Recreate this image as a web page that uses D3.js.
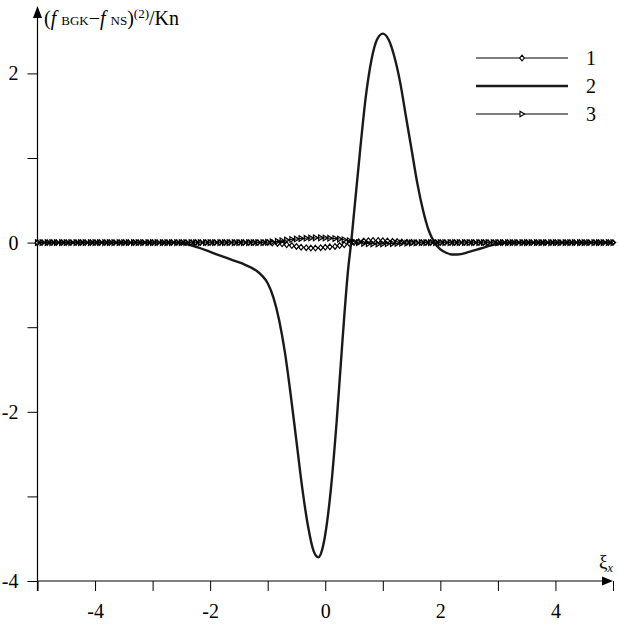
<!DOCTYPE html>
<html>
<head>
<meta charset="utf-8">
<script src="https://cdn.jsdelivr.net/npm/d3@7"></script>
<style>
  html, body { margin: 0; padding: 0; background: #fff; }
  svg { display: block; }
  svg text { font-family: "Liberation Serif", "Times New Roman", "DejaVu Serif", serif !important; fill: #000; white-space: pre; }
</style>
</head>
<body>
<svg id="chart" width="618" height="625"></svg>
<script>
// ---- data ----
const xTicks = [-5, -4, -3, -2, -1, 0, 1, 2, 3, 4, 5];
const xTickLabels = ["", "-4", "", "-2", "", "0", "", "2", "", "4", ""];
const yTicks = [-4, -3, -2, -1, 0, 1, 2];
const yTickLabels = ["-4", "", "-2", "", "0", "", "2"];
const legendLabels = ["1", "2", "3"];

// grid of the marked series (1 and 3)
const gridX = [
  -5.00,-4.92,-4.83,-4.75,-4.67,-4.58,-4.50,-4.42,-4.33,-4.25,-4.17,-4.08,
  -4.00,-3.92,-3.83,-3.75,-3.67,-3.58,-3.50,-3.42,-3.33,-3.25,-3.17,-3.08,
  -3.00,-2.92,-2.83,-2.75,-2.67,-2.58,-2.50,-2.42,-2.33,-2.25,-2.17,-2.08,
  -2.00,-1.92,-1.83,-1.75,-1.67,-1.58,-1.50,-1.42,-1.33,-1.25,-1.17,-1.08,
  -1.00,-0.92,-0.83,-0.75,-0.67,-0.58,-0.50,-0.42,-0.33,-0.25,-0.17,-0.08,
   0.00, 0.08, 0.17, 0.25, 0.33, 0.42, 0.50, 0.58, 0.67, 0.75, 0.83, 0.92,
   1.00, 1.08, 1.17, 1.25, 1.33, 1.42, 1.50, 1.58, 1.67, 1.75, 1.83, 1.92,
   2.00, 2.08, 2.17, 2.25, 2.33, 2.42, 2.50, 2.58, 2.67, 2.75, 2.83, 2.92,
   3.00, 3.08, 3.17, 3.25, 3.33, 3.42, 3.50, 3.58, 3.67, 3.75, 3.83, 3.92,
   4.00, 4.08, 4.17, 4.25, 4.33, 4.42, 4.50, 4.58, 4.67, 4.75, 4.83, 4.92,
   5.00
];

// series 1 (diamonds)
const series1 = [
  0,0,0,0,0,0,0,0,0,0,0,0,
  0,0,0,0,0,0,0,0,0,0,0,0,
  0,0,0,0,0,0,0,0,0,0,0,0,
  0,0,0,0,0,0,0,0,0,0,0,0,
  0,-0.005,-0.01,-0.015,-0.025,-0.035,-0.045,-0.055,-0.06,-0.065,-0.065,-0.06,
  -0.055,-0.05,-0.045,-0.035,-0.025,-0.012,0,0.01,0.018,0.022,0.025,0.025,
  0.022,0.02,0.015,0.012,0.008,0.005,0.003,0,0,0,0,0,
  0,0,0,0,0,0,0,0,0,0,0,0,
  0,0,0,0,0,0,0,0,0,0,0,0,
  0,0,0,0,0,0,0,0,0,0,0,0,
  0
];

// series 3 (triangles)
const series3 = [
  0,0,0,0,0,0,0,0,0,0,0,0,
  0,0,0,0,0,0,0,0,0,0,0,0,
  0,0,0,0,0,0,0,0,0,0,0,0,
  0,0,0,0,0,0,0,0,0,0,0,0,
  0.003,0.008,0.015,0.022,0.03,0.037,0.043,0.048,0.052,0.055,0.056,0.056,
  0.055,0.052,0.048,0.042,0.033,0.022,0.01,0,-0.008,-0.012,-0.015,-0.016,
  -0.015,-0.013,-0.011,-0.009,-0.007,-0.005,-0.003,-0.002,0,0,0,0,
  0,0,0,0,0,0,0,0,0,0,0,0,
  0,0,0,0,0,0,0,0,0,0,0,0,
  0,0,0,0,0,0,0,0,0,0,0,0,
  0
];

// series 2 (thick line)
const series2X = [-5, -3.3, -2.6, -2.4, -2.2, -2.0, -1.8, -1.6, -1.4, -1.2, -1.1, -1.0, -0.9, -0.8, -0.7,
  -0.6, -0.5, -0.4, -0.3, -0.2, -0.12, -0.05, 0.0, 0.1, 0.2, 0.3, 0.4, 0.45, 0.5, 0.6, 0.7, 0.8, 0.9,
  1.0, 1.1, 1.2, 1.3, 1.4, 1.5, 1.6, 1.7, 1.8, 1.9, 2.0, 2.1, 2.2, 2.3, 2.5, 2.7, 2.9, 3.1, 3.3, 5];
const series2Y = [0, 0, 0, -0.02, -0.06, -0.11, -0.16, -0.21, -0.26, -0.33, -0.39, -0.48, -0.65, -0.92, -1.3,
  -1.8, -2.35, -2.9, -3.35, -3.65, -3.72, -3.62, -3.45, -2.9, -2.1, -1.15, -0.3, 0.0, 0.35, 1.05, 1.7, 2.15, 2.4,
  2.47, 2.4, 2.2, 1.9, 1.5, 1.1, 0.7, 0.38, 0.14, 0.0, -0.08, -0.12, -0.14, -0.14, -0.11, -0.07, -0.03, -0.005, 0, 0];

// ---- drawing ----
const FONT = "'Liberation Serif', 'Times New Roman', 'DejaVu Serif', serif";
const svg = d3.select("#chart").attr("font-family", FONT);
svg.append("rect").attr("width", 618).attr("height", 625).attr("fill", "#fff");

const x = d3.scaleLinear().domain([-5, 5]).range([37.5, 613]);
const y = d3.scaleLinear().domain([-4, 2]).range([581, 73.4]);

// x axis
const gx = svg.append("g").attr("transform", `translate(0,${y(-4)})`)
  .call(d3.axisBottom(x).tickValues(xTicks).tickSize(10).tickSizeOuter(0).tickPadding(13)
    .tickFormat((d, i) => xTickLabels[i]));
gx.attr("font-family", FONT).attr("font-size", 20);
gx.select(".domain").remove();
gx.selectAll(".tick line").attr("stroke", "#000").attr("stroke-width", 1);
gx.selectAll(".tick text").attr("font-size", 20);
svg.append("line").attr("x1", x(-5)).attr("x2", 608).attr("y1", y(-4)).attr("y2", y(-4))
  .attr("stroke", "#000").attr("stroke-width", 1.2);
svg.append("path")
  .attr("d", `M${x(5)},${y(-4)} L${x(5) - 11},${y(-4) - 4.5} L${x(5) - 11},${y(-4) + 4.5} Z`)
  .attr("fill", "#000");

// y axis
const gy = svg.append("g").attr("transform", `translate(${x(-5)},0)`)
  .call(d3.axisLeft(y).tickValues(yTicks).tickSize(10).tickSizeOuter(0).tickPadding(9)
    .tickFormat((d, i) => yTickLabels[i]));
gy.attr("font-family", FONT).attr("font-size", 20);
gy.select(".domain").remove();
gy.selectAll(".tick line").attr("stroke", "#000").attr("stroke-width", 1);
gy.selectAll(".tick text").attr("font-size", 20);
svg.append("line").attr("x1", x(-5)).attr("x2", x(-5)).attr("y1", 16).attr("y2", y(-4) + 10)
  .attr("stroke", "#000").attr("stroke-width", 1.2);
svg.append("path")
  .attr("d", `M${x(-5)},6 L${x(-5) - 4.5},18 L${x(-5) + 4.5},18 Z`)
  .attr("fill", "#000");

// y-axis title
const yt = svg.append("text").attr("x", 44).attr("y", 25).attr("font-size", 20);
yt.append("tspan").text("(");
yt.append("tspan").attr("font-style", "italic").text("f");
yt.append("tspan").attr("font-size", 13).attr("dx", 5).text("BGK");
yt.append("tspan").text("\u2212");
yt.append("tspan").attr("font-style", "italic").text("f");
yt.append("tspan").attr("font-size", 13).attr("dx", 5).text("NS");
yt.append("tspan").text(")");
yt.append("tspan").attr("font-size", 13).attr("dy", -7).text("(2)");
yt.append("tspan").attr("dy", 7).text("/Kn");

// x-axis title
const xt = svg.append("text").attr("x", 599).attr("y", 568).attr("font-size", 19);
xt.append("tspan").text("\u03BE");
xt.append("tspan").attr("font-size", 12).attr("font-style", "italic").attr("dy", 4).text("x");

// markers
const diamond = "M0,-2.8 L2.3,0 L0,2.8 L-2.3,0 Z";
const triangle = "M-2,-2.8 L2.6,0 L-2,2.8 Z";

const line = d3.line().x(d => x(d[0])).y(d => y(d[1]));
const smooth = d3.line().x(d => x(d[0])).y(d => y(d[1])).curve(d3.curveMonotoneX);

const data1 = gridX.map((v, i) => [v, series1[i]]);
const data3 = gridX.map((v, i) => [v, series3[i]]);
const data2 = series2X.map((v, i) => [v, series2Y[i]]);

// series 1
svg.append("path").datum(data1).attr("d", line)
  .attr("fill", "none").attr("stroke", "#000").attr("stroke-width", 1);
svg.append("g").selectAll("path").data(data1).join("path")
  .attr("transform", d => `translate(${x(d[0])},${y(d[1])})`)
  .attr("d", diamond).attr("fill", "#fff").attr("stroke", "#000").attr("stroke-width", 1.2);

// series 2
svg.append("path").datum(data2).attr("d", smooth)
  .attr("fill", "none").attr("stroke", "#1a1a1a").attr("stroke-width", 2.4)
  .attr("stroke-linejoin", "round");

// series 3
svg.append("path").datum(data3).attr("d", line)
  .attr("fill", "none").attr("stroke", "#000").attr("stroke-width", 1);
svg.append("g").selectAll("path").data(data3).join("path")
  .attr("transform", d => `translate(${x(d[0])},${y(d[1])})`)
  .attr("d", triangle).attr("fill", "none").attr("stroke", "#000").attr("stroke-width", 1.2);

// legend
const legendY = [58, 86, 114];
const lg = svg.append("g");
legendLabels.forEach((lab, i) => {
  const yy = legendY[i];
  lg.append("line").attr("x1", 476).attr("x2", 568).attr("y1", yy).attr("y2", yy)
    .attr("stroke", i === 1 ? "#1a1a1a" : "#000").attr("stroke-width", i === 1 ? 2.4 : 1);
  if (i === 0) lg.append("path").attr("transform", `translate(522,${yy})`).attr("d", diamond)
    .attr("fill", "#fff").attr("stroke", "#000").attr("stroke-width", 1.1);
  if (i === 2) lg.append("path").attr("transform", `translate(522,${yy})`).attr("d", triangle)
    .attr("fill", "#fff").attr("stroke", "#000").attr("stroke-width", 1.1);
  lg.append("text").attr("x", 586).attr("y", yy + 7).attr("font-size", 20).text(lab);
});
</script>
</body>
</html>
